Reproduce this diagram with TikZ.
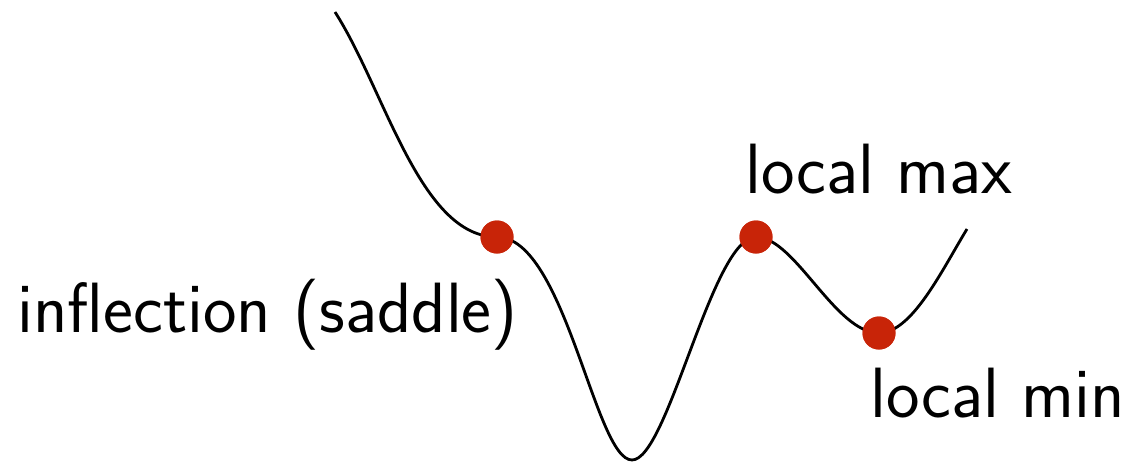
\documentclass[tikz,border=0pt]{standalone}
\definecolor{dotred}{RGB}{200,36,8}
\tikzset{
  critdot/.style={circle,fill=dotred,inner sep=0pt,minimum size=16.5pt},
  curvelabel/.style={anchor=base west,inner sep=0pt,font=\fontsize{35.6}{42}\selectfont\sffamily},
  landscape/.style={line width=1.4pt,black}
}
\begin{document}
\begin{tikzpicture}[x=0.5pt,y=-0.5pt]
\useasboundingbox (0,0) rectangle (1130,462);
\coordinate (start) at (335,12);
\coordinate (bottom) at (632,460);
\coordinate (stop) at (967,229);
\node[critdot] (saddle) at (497,237) {};
\node[critdot] (lmax) at (756,237) {};
\node[critdot] (lmin) at (879,333) {};
\draw[landscape] (start) .. controls (385,90) and (420,237) .. (saddle.center)
  .. controls (565,237) and (595,460) .. (bottom)
  .. controls (668,460) and (712,237) .. (lmax.center)
  .. controls (795,237) and (835,333) .. (lmin.center)
  .. controls (912,333) and (942,270) .. (stop);
\node[critdot] at (saddle) {};
\node[critdot] at (lmax) {};
\node[critdot] at (lmin) {};
\node[curvelabel] (tsaddle) at (17,332) {inflection (saddle)};
\node[curvelabel] (tmax) at (745,193) {local max};
\node[curvelabel] (tmin) at (870,417) {local min};
\end{tikzpicture}
\end{document}
